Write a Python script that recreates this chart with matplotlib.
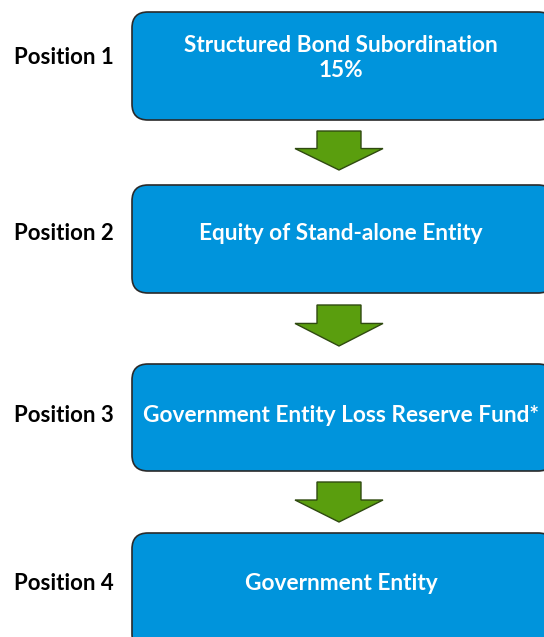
import matplotlib.pyplot as plt
from matplotlib.patches import FancyBboxPatch, Polygon

plt.rcParams['font.family'] = ['Lato', 'DejaVu Sans']

positions = ['Position 1', 'Position 2', 'Position 3', 'Position 4']
boxes = ['Structured Bond Subordination\n15%',
         'Equity of Stand-alone Entity',
         'Government Entity Loss Reserve Fund*',
         'Government Entity']

# layout in pixel units
box_y = [(12, 120), (185, 293), (364, 471), (533, 650)]
text_y = [58, 234, 415, 584]
arrow_y = [(131, 170), (305, 346), (482, 522)]

fig = plt.figure(figsize=(5.44, 6.37), dpi=100)
ax = fig.add_axes([0, 0, 1, 1])
ax.set_xlim(0, 544)
ax.set_ylim(637, 0)
ax.axis('off')

for (y0, y1), ty, txt, lab in zip(box_y, text_y, boxes, positions):
    x0, x1 = 132, 554
    ax.add_patch(FancyBboxPatch((x0 + 16, y0 + 16), x1 - x0 - 32, y1 - y0 - 32,
                                boxstyle='round,pad=16', fc='#0094DC', ec='#2a2a2a', lw=1.2))
    ax.text(341, ty, txt, color='white', fontsize=16.3,
            fontweight='bold', ha='center', va='center', linespacing=1.2)
    ax.text(14, ty, lab, color='black', fontsize=16,
            fontweight='bold', ha='left', va='center')

for y0, y1 in arrow_y:
    cx = 339
    head = y0 + (y1 - y0) * 0.45
    pts = [(cx - 22, y0), (cx + 22, y0), (cx + 22, head), (cx + 44, head),
           (cx, y1), (cx - 44, head), (cx - 22, head)]
    ax.add_patch(Polygon(pts, closed=True, fc='#5A9E0E', ec='#2f4a10', lw=1))

fig.savefig('out.png', dpi=100)
